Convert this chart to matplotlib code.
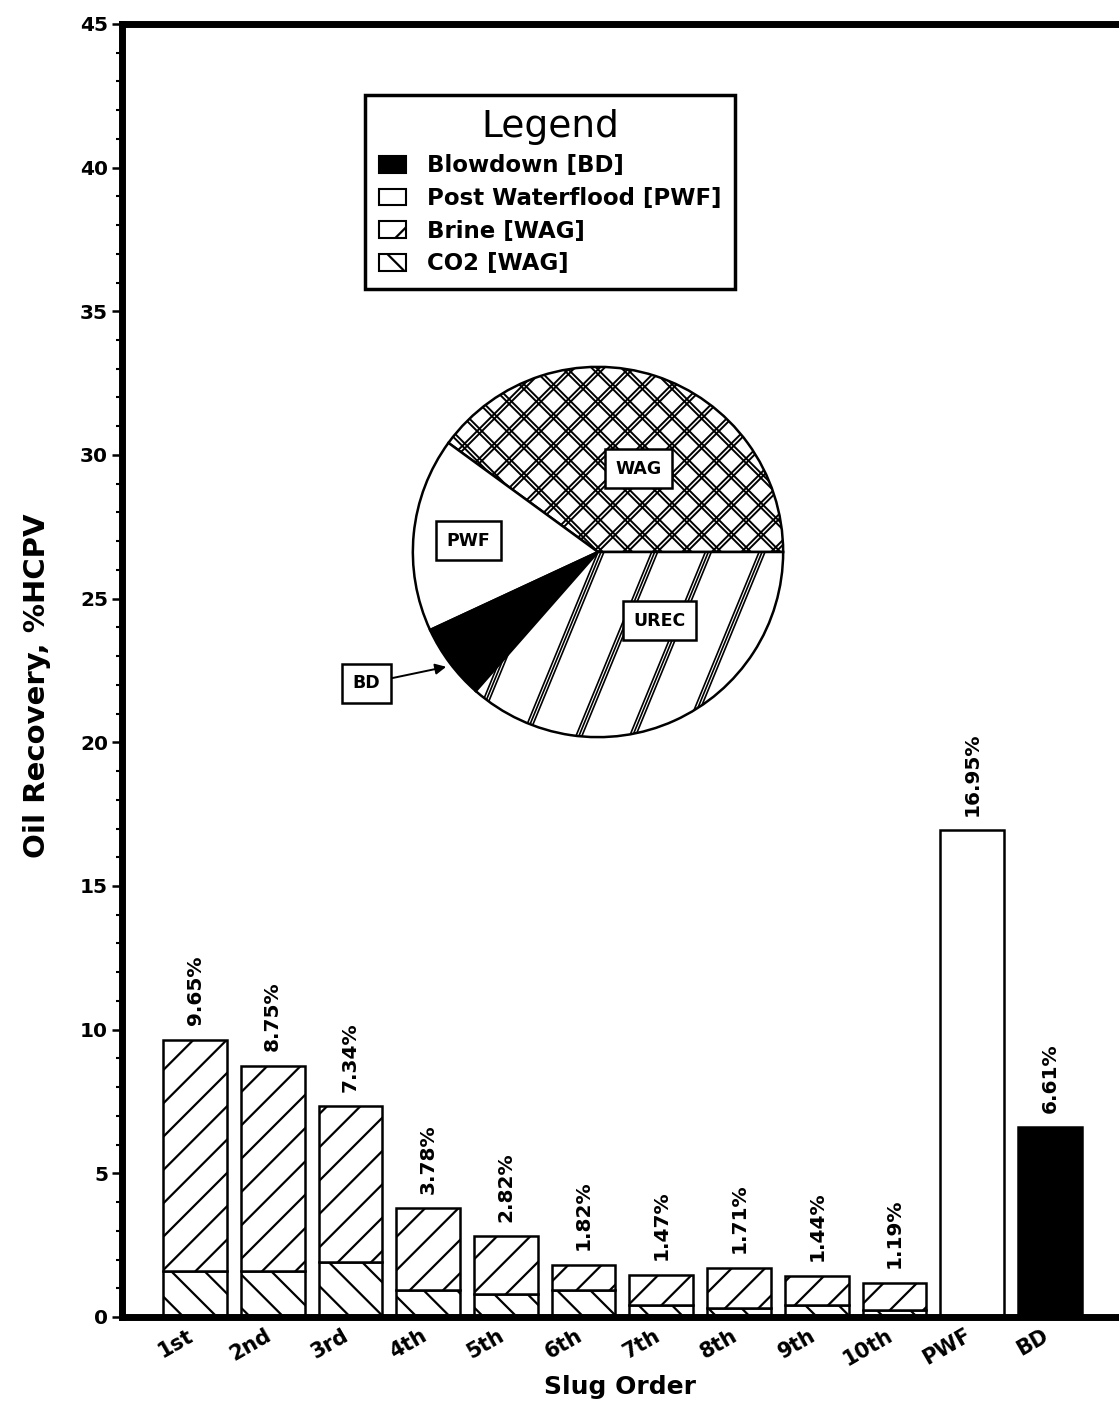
import matplotlib
matplotlib.use("Agg")
import matplotlib.pyplot as plt
import numpy as np
from matplotlib.patches import Patch
from matplotlib.ticker import MultipleLocator
from matplotlib.transforms import ScaledTranslation

# ---- data -------------------------------------------------------------
categories = ["1st", "2nd", "3rd", "4th", "5th", "6th", "7th", "8th",
              "9th", "10th", "PWF", "BD"]
slug_total = [9.65, 8.75, 7.34, 3.78, 2.82, 1.82, 1.47, 1.71, 1.44, 1.19]
slug_co2 = [1.6, 1.6, 1.9, 0.95, 0.8, 0.95, 0.4, 0.3, 0.4, 0.25]
pwf_total = 16.95
bd_total = 6.61

pie_labels = ["WAG", "PWF", "BD", "UREC"]
wag_total = sum(slug_total)
pie_values = [wag_total, pwf_total, bd_total,
              100.0 - wag_total - pwf_total - bd_total]

# ---- style ------------------------------------------------------------
plt.rcParams["font.family"] = ["DejaVu Sans"]
plt.rcParams["hatch.linewidth"] = 1.6
plt.rcParams["hatch.color"] = "black"

fig = plt.figure(figsize=(11.19, 14.09), dpi=100)
ax = fig.add_axes([0.109, 0.0653, 0.891, 0.9177])

x = np.arange(len(categories))
xs = x[:len(slug_total)]
brine = [t - c for t, c in zip(slug_total, slug_co2)]
bw = 0.82
edge = dict(edgecolor="black", linewidth=1.8)

ax.bar(xs, slug_co2, width=bw, color="white", hatch="\\", **edge)
ax.bar(xs, brine, bottom=slug_co2, width=bw, color="white", hatch="/", **edge)
ax.bar(x[10], pwf_total, width=bw, color="white", **edge)
ax.bar(x[11], bd_total, width=bw, color="black", **edge)

totals = slug_total + [pwf_total, bd_total]
for xi, v in zip(x, totals):
    ax.text(xi, v + 0.5, f"{v:.2f}%", rotation=90, ha="center", va="bottom",
            fontsize=14.5, fontweight="bold")

ax.set_xlim(-0.94, 11.89)
ax.set_ylim(0, 45)
ax.yaxis.set_major_locator(MultipleLocator(5))
ax.yaxis.set_minor_locator(MultipleLocator(1))
ax.tick_params(axis="y", which="major", direction="out", length=7, width=1.8,
               labelsize=14.5, pad=3)
ax.tick_params(axis="y", which="minor", direction="out", length=4, width=1.5)
for lab in ax.get_yticklabels():
    lab.set_fontweight("bold")

ax.set_xticks(x)
ax.set_xticklabels(categories, rotation=30, ha="right", rotation_mode="anchor",
                   fontsize=15, fontweight="bold")
ax.tick_params(axis="x", length=0, pad=6)
shift = ScaledTranslation(-8 / 100, 0, fig.dpi_scale_trans)
for lab in ax.get_xticklabels():
    lab.set_transform(lab.get_transform() + shift)

for side in ("left", "top", "bottom"):
    ax.spines[side].set_linewidth(5)
ax.spines["right"].set_visible(False)

ax.set_ylabel("Oil Recovery, %HCPV", fontsize=21, fontweight="bold")
ax.yaxis.set_label_coords(-0.071, 0.488)
ax.set_xlabel("Slug Order", fontsize=18, fontweight="bold", labelpad=4)

# ---- legend -------------------------------------------------------------
handles = [
    Patch(facecolor="black", edgecolor="black", linewidth=1.5),
    Patch(facecolor="white", edgecolor="black", linewidth=1.5),
    Patch(facecolor="white", edgecolor="black", linewidth=1.5, hatch="/"),
    Patch(facecolor="white", edgecolor="black", linewidth=1.5, hatch="\\"),
]
labels = ["Blowdown [BD]", "Post Waterflood [PWF]", "Brine [WAG]", "CO2 [WAG]"]
leg = ax.legend(handles, labels, title="Legend", loc="upper left",
                bbox_to_anchor=(365 / 1119, 1 - 95 / 1409),
                bbox_transform=fig.transFigure, frameon=True, fancybox=False,
                edgecolor="black", framealpha=1,
                prop=dict(weight="bold", size=16.5), title_fontsize=27,
                handlelength=1.2, handleheight=0.75, handletextpad=0.9,
                labelspacing=0.42, borderpad=0.6, borderaxespad=0)
leg.get_frame().set_linewidth(2.5)

# ---- inset pie --------------------------------------------------------
pax = fig.add_axes([411 / 1119, (1409 - 739) / 1409, 374 / 1119, 374 / 1409])
wedges, _ = pax.pie(pie_values, startangle=0, counterclock=True,
                    colors=["white", "white", "black", "white"],
                    wedgeprops=dict(edgecolor="black", linewidth=1.8))
pax.set_xlim(-1.01, 1.01)
pax.set_ylim(-1.01, 1.01)

# double-line cross hatching for WAG
t = np.array([-1.3, 1.3])
for c in np.arange(-1.6, 1.61, 0.16):
    for d in (0.0, 0.026):
        for sgn in (1, -1):
            ln, = pax.plot(t, sgn * t + c + d, color="black", lw=1.4)
            ln.set_clip_path(wedges[0])

# triple-line steep hatching for UREC
slope = 2.43
yy = np.array([-1.2, 1.2])
for x0 in np.arange(-0.87, 1.2, 0.29):
    for d in (0.0, 0.016, 0.032):
        ln, = pax.plot(yy / slope + x0 + d, yy, color="black", lw=1.2)
        ln.set_clip_path(wedges[3])

box = dict(boxstyle="square,pad=0.6", fc="white", ec="black", lw=1.8)
pax.text(0.22, 0.45, "WAG", ha="center", va="center", fontsize=12.5,
         fontweight="bold", bbox=box, zorder=5)
pax.text(-0.70, 0.06, "PWF", ha="center", va="center", fontsize=12.5,
         fontweight="bold", bbox=box, zorder=5)
pax.text(0.33, -0.37, "UREC", ha="center", va="center", fontsize=12.5,
         fontweight="bold", bbox=box, zorder=5)
pax.annotate("BD", xy=(-0.82, -0.62), xytext=(-1.25, -0.71),
             ha="center", va="center", fontsize=12.5, fontweight="bold",
             bbox=box, annotation_clip=False, zorder=5,
             arrowprops=dict(arrowstyle="-|>", color="black", lw=1.4,
                             shrinkA=0, shrinkB=0, mutation_scale=16))

fig.savefig("out.png", dpi=100)
